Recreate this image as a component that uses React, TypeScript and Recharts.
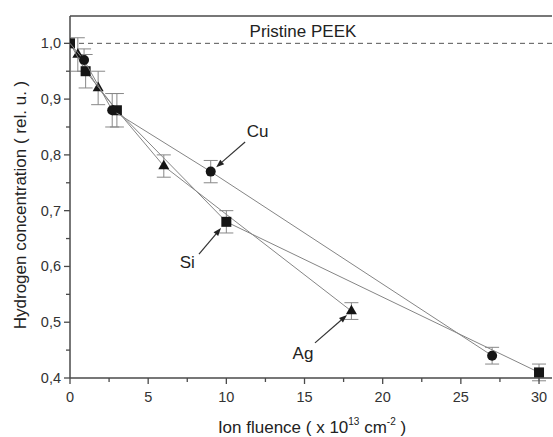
import React from 'react';
import { ScatterChart, Scatter, XAxis, YAxis, ErrorBar, ReferenceLine, ReferenceDot } from 'recharts';

const cuFluence = [0, 0.9, 2.7, 9, 27];
const cuH = [1.0, 0.97, 0.88, 0.77, 0.44];
const cuErr = [0, 0.02, 0.03, 0.02, 0.015];

const siFluence = [0, 1.0, 3.0, 10, 30];
const siH = [1.0, 0.95, 0.88, 0.68, 0.41];
const siErr = [0, 0.03, 0.03, 0.02, 0.015];

const agFluence = [0, 0.5, 1.8, 6, 18];
const agH = [1.0, 0.98, 0.92, 0.78, 0.52];
const agErr = [0, 0.03, 0.03, 0.02, 0.015];

const xTicks = [0, 2.5, 5, 7.5, 10, 12.5, 15, 17.5, 20, 22.5, 25, 27.5, 30];
const yTicks = [0.4, 0.45, 0.5, 0.55, 0.6, 0.65, 0.7, 0.75, 0.8, 0.85, 0.9, 0.95, 1.0];
const pristineLevel = 1.0;

// annotations: label text, label position, arrow start, arrow end (data coords)
const annLabels = ['Cu', 'Si', 'Ag'];
const annLabelPos = [[12.0, 0.843], [7.5, 0.608], [14.9, 0.445]];
const annArrowFrom = [[11.2, 0.823], [8.25, 0.622], [15.67, 0.463]];
const annArrowTo = [[9.35, 0.778], [9.66, 0.669], [17.72, 0.513]];

const build = (xs: number[], ys: number[], es: number[]) => xs.map((x, i) => ({ x, y: ys[i], err: es[i] }));
const cuData = build(cuFluence, cuH, cuErr);
const siData = build(siFluence, siH, siErr);
const agData = build(agFluence, agH, agErr);

const FONT = 'Arial, "Liberation Sans", sans-serif';
const AXIS = '#4a4a4a';
const LINE = '#858585';

const CircleShape = (p: any) => {
  if (p.payload && p.payload.x === 0) return <g />;
  return <circle cx={p.cx} cy={p.cy} r={5} fill="#151515" />;
};
const SquareShape = (p: any) => <rect x={p.cx - 5} y={p.cy - 5} width={10} height={10} fill="#151515" />;
const TriangleShape = (p: any) => {
  if (p.payload && p.payload.x === 0) return <g />;
  const s = 11;
  const h = s * 0.866;
  return <polygon points={`${p.cx},${p.cy - (2 * h) / 3} ${p.cx - s / 2},${p.cy + h / 3} ${p.cx + s / 2},${p.cy + h / 3}`} fill="#151515" />;
};

const fmt = (v: number) => v.toFixed(1).replace('.', ',');
const isMajor = (v: number) => Math.abs(Math.round(v * 10) - v * 10) < 1e-6;

const YTick = (p: any) => {
  const v = p.payload.value;
  const major = isMajor(v);
  return (
    <g>
      <line x1={p.x} y1={p.y} x2={p.x - (major ? 6 : 4)} y2={p.y} stroke={AXIS} strokeWidth={1.3} />
      {major && (
        <text x={p.x - 9} y={p.y} dy={5} textAnchor="end" fontSize={14.5} fontFamily={FONT} fill="#333">{fmt(v)}</text>
      )}
    </g>
  );
};

const XTick = (p: any) => {
  const v = p.payload.value;
  const major = Math.abs(v % 5) < 1e-6;
  return (
    <g>
      <line x1={p.x} y1={p.y} x2={p.x} y2={p.y + (major ? 6 : 4)} stroke={AXIS} strokeWidth={1.3} />
      {major && (
        <text x={p.x} y={p.y + 24} textAnchor="middle" fontSize={14.5} fontFamily={FONT} fill="#333">{v}</text>
      )}
    </g>
  );
};

const Arrow = (p: any) => {
  const { x1, y1, x2, y2 } = p;
  const ang = Math.atan2(y2 - y1, x2 - x1);
  const L = 8, W = 3;
  const bx = x2 - L * Math.cos(ang), by = y2 - L * Math.sin(ang);
  const px = -Math.sin(ang) * W, py = Math.cos(ang) * W;
  return (
    <g>
      <line x1={x1} y1={y1} x2={bx} y2={by} stroke="#333" strokeWidth={1.2} />
      <polygon points={`${x2},${y2} ${bx + px},${by + py} ${bx - px},${by - py}`} fill="#222" />
    </g>
  );
};

const makeText = (t: string) => (p: any) => (
  <text x={p.cx} y={p.cy} dy={6} textAnchor="middle" fontSize={17} fontFamily={FONT} fill="#222">{t}</text>
);

export default function App() {
  return (
    <div style={{ position: 'absolute', left: 0, top: 0, background: '#fff' }}>
      <ScatterChart width={553} height={437} margin={{ top: 16, right: 1, bottom: 29, left: 10 }}>
        <XAxis
          type="number"
          dataKey="x"
          domain={[0, 30.83]}
          allowDataOverflow
          ticks={xTicks}
          interval={0}
          tickLine={false}
          tickSize={0}
          tickMargin={0}
          tick={<XTick />}
          stroke={AXIS}
          strokeWidth={1.5}
          height={30}
          label={{
            content: () => (
              <text x={312} y={433} textAnchor="middle" fontSize={17} fontFamily={FONT} fill="#222">
                Ion fluence ( x 10<tspan dy={-8} fontSize={10}>13</tspan><tspan dy={8}> cm</tspan><tspan dy={-8} fontSize={10}>-2</tspan><tspan dy={8}> )</tspan>
              </text>
            ),
          }}
        />
        <YAxis
          type="number"
          dataKey="y"
          domain={[0.4, 1.049]}
          allowDataOverflow
          ticks={yTicks}
          interval={0}
          tickLine={false}
          tickSize={0}
          tickMargin={0}
          tick={<YTick />}
          stroke={AXIS}
          strokeWidth={1.5}
          width={60}
          label={{
            content: () => (
              <text x={26} y={205} transform="rotate(-90 26 205)" textAnchor="middle" fontSize={17} fontFamily={FONT} fill="#222">
                Hydrogen concentration ( rel. u. )
              </text>
            ),
          }}
        />
        <ReferenceLine y={1.049} stroke={AXIS} strokeWidth={1.5} ifOverflow="visible" />
        <ReferenceLine y={pristineLevel} stroke="#555" strokeWidth={1} strokeDasharray="5 4" />
        <ReferenceDot x={14.9} y={1.022} r={0} shape={makeText('Pristine PEEK')} ifOverflow="visible" />

        <Scatter data={agData} shape={<TriangleShape />} line={{ stroke: LINE, strokeWidth: 1 }} isAnimationActive={false}>
          <ErrorBar dataKey="err" direction="y" width={7} stroke="#888" strokeWidth={1} />
        </Scatter>
        <Scatter data={siData} shape={<SquareShape />} line={{ stroke: LINE, strokeWidth: 1 }} isAnimationActive={false}>
          <ErrorBar dataKey="err" direction="y" width={7} stroke="#888" strokeWidth={1} />
        </Scatter>
        <Scatter data={cuData} shape={<CircleShape />} line={{ stroke: LINE, strokeWidth: 1 }} isAnimationActive={false}>
          <ErrorBar dataKey="err" direction="y" width={7} stroke="#888" strokeWidth={1} />
        </Scatter>

        {annLabels.map((t, i) => (
          <ReferenceLine
            key={'a' + i}
            segment={[{ x: annArrowFrom[i][0], y: annArrowFrom[i][1] }, { x: annArrowTo[i][0], y: annArrowTo[i][1] }]}
            shape={(p: any) => <Arrow {...p} />}
            ifOverflow="visible"
          />
        ))}
        {annLabels.map((t, i) => (
          <ReferenceDot key={'l' + i} x={annLabelPos[i][0]} y={annLabelPos[i][1]} r={0} shape={makeText(t)} ifOverflow="visible" />
        ))}
      </ScatterChart>
    </div>
  );
}
